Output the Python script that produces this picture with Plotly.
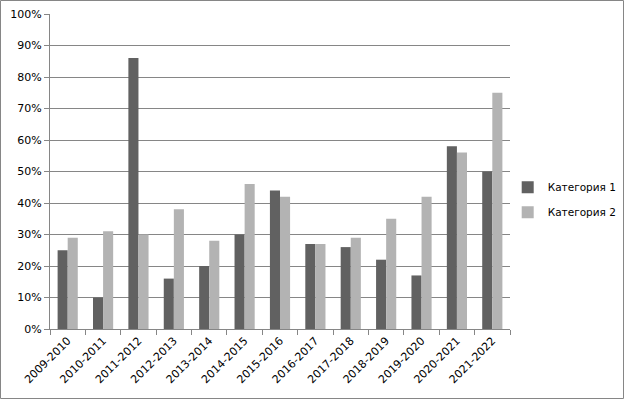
import plotly.graph_objects as go

years = ["2009-2010", "2010-2011", "2011-2012", "2012-2013", "2013-2014", "2014-2015",
         "2015-2016", "2016-2017", "2017-2018", "2018-2019", "2019-2020", "2020-2021", "2021-2022"]
cat1 = [25, 10, 86, 16, 20, 30, 44, 27, 26, 22, 17, 58, 50]
cat2 = [29, 31, 30, 38, 28, 46, 42, 27, 29, 35, 42, 56, 75]
names = ["Категория 1", "Категория 2"]
yticks = list(range(0, 101, 10))
ylabels = [f"{v}%" for v in yticks]

W, H = 625, 400
L, R, T, B = 50, 115, 14, 71
pw, ph = W - L - R, H - T - B

fig = go.Figure()
fig.add_trace(go.Bar(x=years, y=cat1, name=names[0], legendgroup="a",
                     marker=dict(color="#616161", line=dict(width=0))))
fig.add_trace(go.Bar(x=years, y=cat2, name=names[1], legendgroup="b",
                     marker=dict(color="#B3B3B3", line=dict(width=0))))

fig.update_layout(
    width=W, height=H,
    margin=dict(l=L, r=R, t=T, b=B, autoexpand=False),
    paper_bgcolor="white", plot_bgcolor="white",
    barmode="group", bargap=0.43, bargroupgap=0,
    font=dict(family="DejaVu Sans", size=11, color="black"),
    showlegend=True,
    legend=dict(x=0.995, y=0.41, xanchor="left", yanchor="middle",
                font=dict(size=10.5), itemwidth=30, traceorder="grouped", tracegroupgap=6,
                bgcolor="rgba(0,0,0,0)"),
    shapes=[dict(type="rect", xref="paper", yref="paper",
                 x0=-(L - 0.5) / pw, x1=1 + (R - 1.5) / pw,
                 y0=-(B - 1.5) / ph, y1=1 + (T - 0.5) / ph,
                 line=dict(color="#868686", width=1))],
)
fig.update_xaxes(
    showline=True, linecolor="#868686", linewidth=1,
    ticks="outside", tickson="boundaries", ticklen=5, tickcolor="#868686",
    tickangle=-45, showgrid=False, tickfont=dict(size=11),
)
fig.update_yaxes(
    range=[0, 100], tickmode="array", tickvals=yticks, ticktext=ylabels,
    showline=True, linecolor="#868686", linewidth=1,
    ticks="outside", ticklen=5, tickcolor="#868686",
    showgrid=True, gridcolor="#868686", gridwidth=1, zeroline=False,
    tickfont=dict(size=11),
)
fig.write_html("out.html")
